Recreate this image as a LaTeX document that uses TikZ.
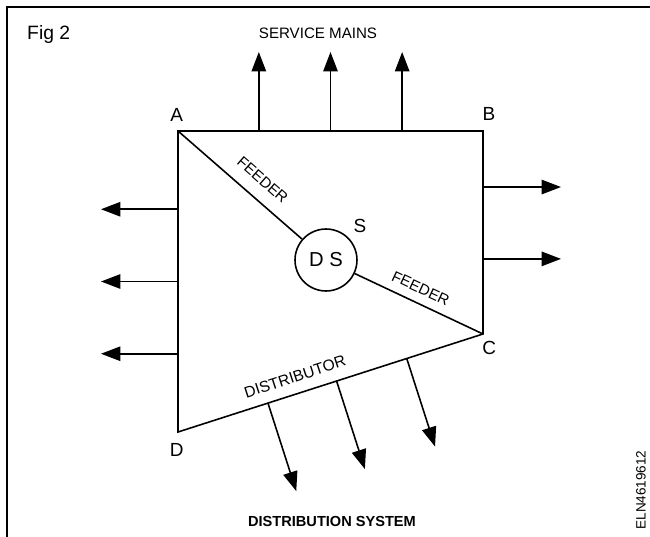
\documentclass[tikz,border=0pt]{standalone}
\usepackage{fontspec}
\setmainfont{Liberation Sans}
\usetikzlibrary{arrows.meta,calc}
\tikzset{
  mainline/.style={line width=0.9pt, draw=black},
  branch/.style={-{Triangle[length=3.9mm,width=2.9mm]}, line width=0.9pt, draw=black},
  cornerlabel/.style={font=\fontsize{10.8}{12}\selectfont, inner sep=0pt},
  linelabel/.style={font=\fontsize{8.6}{10}\selectfont, inner sep=0pt},
  stationnode/.style={circle, draw, line width=0.9pt, minimum size=1.24cm, inner sep=0pt, font=\fontsize{11.5}{13}\selectfont},
}
\begin{document}
\begin{tikzpicture}[x=0.02cm,y=-0.02cm]
\path[use as bounding box] (0,0) rectangle (650,537);
\draw[line width=1.1pt] (7,537) -- (7,7) -- (650,7);
\node[font=\fontsize{11}{13}\selectfont] (fig) at (48.7,34.3) {Fig 2};

% corners of the network
\coordinate (A) at (178,131);
\coordinate (B) at (483,131);
\coordinate (C) at (483,334);
\coordinate (D) at (178,432);
\draw[mainline] (A) -- (B) -- (C) -- (D) -- cycle;

% distribution station and feeders
\node[stationnode] (ds) at (326,260) {D S};
\draw[mainline] (A) -- (ds);
\draw[mainline] (ds) -- (C);

% service mains
\foreach \t [count=\i] in {0.265,0.5,0.735} {
  \coordinate (up\i) at ($(A)!\t!(B)$);
  \coordinate (uptip\i) at ($(up\i)+(0,-79)$);
  \draw[branch] (up\i) -- (uptip\i);
}
\foreach \t [count=\i] in {0.276,0.63} {
  \coordinate (rt\i) at ($(B)!\t!(C)$);
  \coordinate (rttip\i) at ($(rt\i)+(78,0)$);
  \draw[branch] (rt\i) -- (rttip\i);
}
\foreach \t [count=\i] in {0.26,0.5,0.74} {
  \coordinate (lt\i) at ($(A)!\t!(D)$);
  \coordinate (lttip\i) at ($(lt\i)+(-77,0)$);
  \draw[branch] (lt\i) -- (lttip\i);
}
\foreach \t [count=\i] in {0.295,0.52,0.75} {
  \coordinate (dn\i) at ($(D)!\t!(C)$);
  \coordinate (dntip\i) at ($(dn\i)!1.85cm!-90:(C)$);
  \draw[branch] (dn\i) -- (dntip\i);
}

% labels
\node[cornerlabel] (labA) at (176.7,115) {A};
\node[cornerlabel] (labB) at (489,114) {B};
\node[cornerlabel] (labC) at (489.3,348) {C};
\node[cornerlabel] (labD) at (176.7,450) {D};
\node[cornerlabel] (labS) at (360,226) {S};
\node[linelabel,rotate=-41] (feedA) at (262.7,180) {FEEDER};
\node[linelabel,rotate=-25] (feedC) at (420.7,288.3) {FEEDER};
\node[linelabel,rotate=18,font=\fontsize{8.9}{10}\selectfont] (dist) at (295,376.7) {DISTRIBUTOR};
\node[font=\fontsize{8.6}{10}\selectfont] (mains) at (318,33) {SERVICE MAINS};
\node[font=\bfseries\fontsize{8.3}{10}\selectfont] (title) at (332,521) {DISTRIBUTION SYSTEM};
\node[font=\fontsize{7.7}{9}\selectfont,rotate=90] (code) at (641,490) {ELN4619612};
\end{tikzpicture}
\end{document}
